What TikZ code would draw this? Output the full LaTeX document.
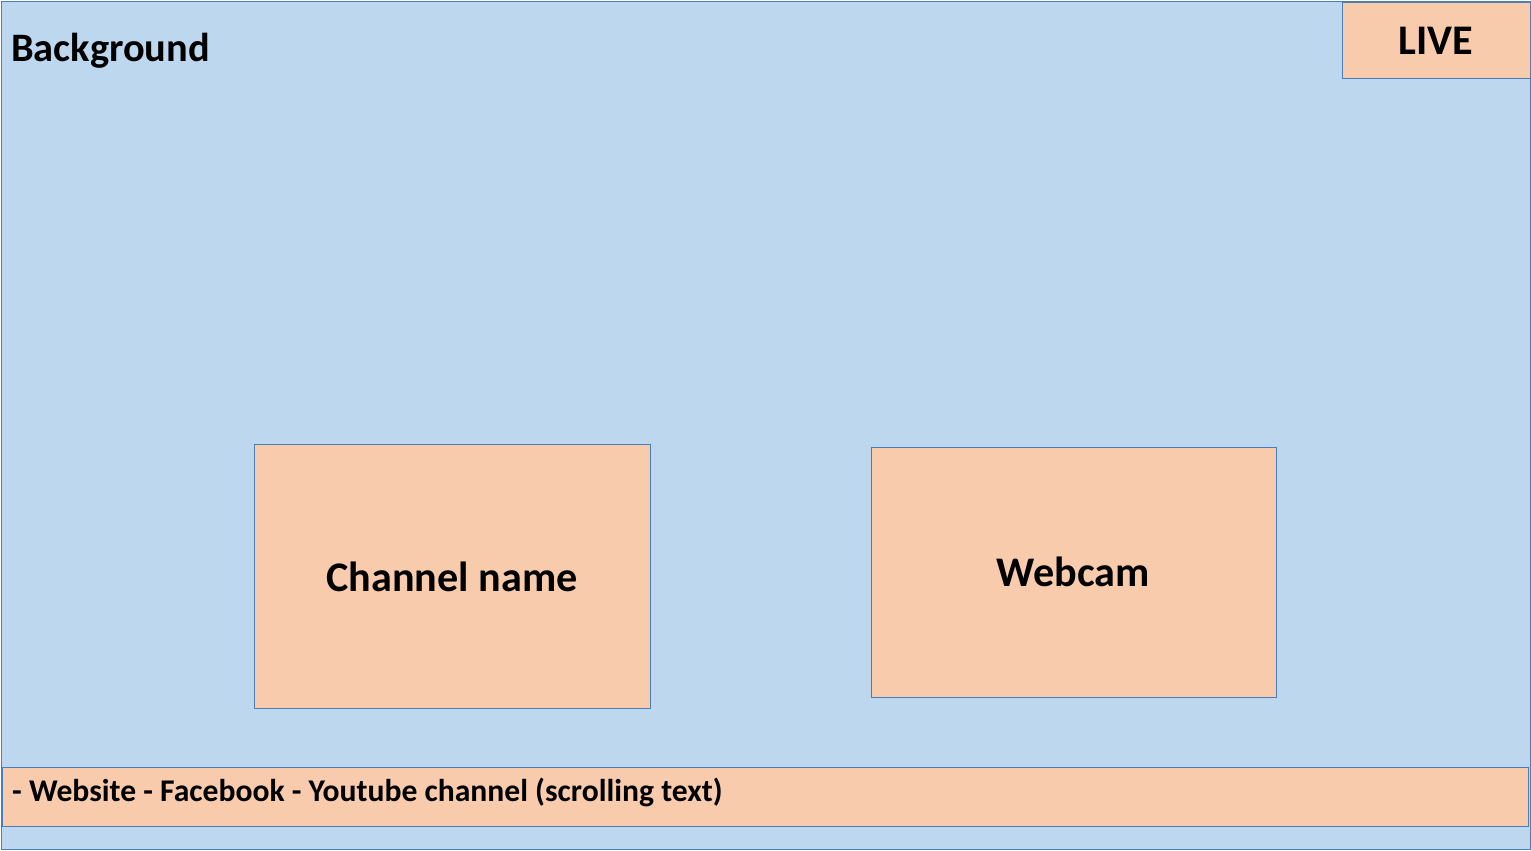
\documentclass[tikz,border=0pt]{standalone}
\usepackage{fontspec}
\setmainfont{Carlito}
\definecolor{screenblue}{HTML}{BDD7EE}
\definecolor{boxorange}{HTML}{F8CBAD}
\definecolor{edgeblue}{HTML}{4A7EBB}
\begin{document}
\begin{tikzpicture}[x=0.02cm,y=-0.02cm,
    panel/.style={draw=edgeblue, line width=0.5pt, fill=boxorange, font=\bfseries},
    ]
    \useasboundingbox (0,0) rectangle (1531,850);
    \draw[draw=edgeblue, line width=0.5pt, fill=screenblue] (1,1) rectangle (1530,849);
    \node[anchor=west, font=\bfseries\fontsize{23}{26}\selectfont] (bg) at (5,51) {Background};

    \draw[panel] (1342,2) rectangle (1530,78);
    \node[font=\bfseries\fontsize{24}{28}\selectfont] (live) at (1436,41) {LIVE};

    \draw[panel] (254,444) rectangle (650,708);
    \node[font=\bfseries\fontsize{24}{28}\selectfont] (channel) at (452,577) {Channel name};

    \draw[panel] (871,447) rectangle (1276,697);
    \node[font=\bfseries\fontsize{24}{28}\selectfont] (webcam) at (1073,572) {Webcam};

    \draw[panel] (2,767) rectangle (1528,826);
    \node[anchor=west, font=\bfseries\fontsize{18}{22}\selectfont] (ticker) at (6,792)
        {- Website - Facebook - Youtube channel (scrolling text)};
\end{tikzpicture}
\end{document}
